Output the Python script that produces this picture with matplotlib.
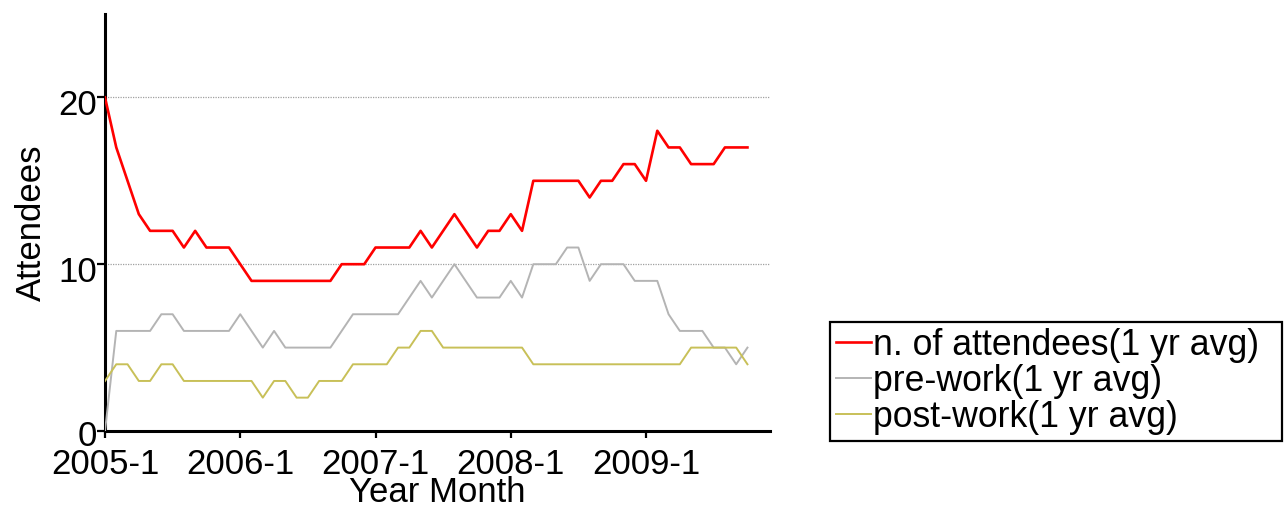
import numpy as np
import matplotlib
matplotlib.use('Agg')
import matplotlib.pyplot as plt
from matplotlib.transforms import ScaledTranslation

# monthly values, 2005-1 .. 2009-10
attendees = [20, 17, 15, 13, 12, 12, 12, 11, 12, 11, 11, 11,
             10, 9, 9, 9, 9, 9, 9, 9, 9, 10, 10, 10,
             11, 11, 11, 11, 12, 11, 12, 13, 12, 11, 12, 12,
             13, 12, 15, 15, 15, 15, 15, 14, 15, 15, 16, 16,
             15, 18, 17, 17, 16, 16, 16, 17, 17, 17]
pre_work = [0, 6, 6, 6, 6, 7, 7, 6, 6, 6, 6, 6,
            7, 6, 5, 6, 5, 5, 5, 5, 5, 6, 7, 7,
            7, 7, 7, 8, 9, 8, 9, 10, 9, 8, 8, 8,
            9, 8, 10, 10, 10, 11, 11, 9, 10, 10, 10, 9,
            9, 9, 7, 6, 6, 6, 5, 5, 4, 5]
post_work = [3, 4, 4, 3, 3, 4, 4, 3, 3, 3, 3, 3,
             3, 3, 2, 3, 3, 2, 2, 3, 3, 3, 4, 4,
             4, 4, 5, 5, 6, 6, 5, 5, 5, 5, 5, 5,
             5, 5, 4, 4, 4, 4, 4, 4, 4, 4, 4, 4,
             4, 4, 4, 4, 5, 5, 5, 5, 5, 4]
tick_labels = ['2005-1', '2006-1', '2007-1', '2008-1', '2009-1']
months = np.arange(len(attendees))

plt.rcParams['font.family'] = ['Liberation Sans', 'DejaVu Sans']
fs = 25

fig = plt.figure(figsize=(12.87, 5.13), dpi=100)
ax = fig.add_axes([105/1287, 1-431/513, 665/1287, 417/513])

ax.plot(months, attendees, color='#ff0000', lw=1.9, label='n. of attendees(1 yr avg)', zorder=3)
ax.plot(months, pre_work, color='#b4b4b4', lw=1.4, label='pre-work(1 yr avg)', zorder=3)
ax.plot(months, post_work, color='#c8c058', lw=1.4, label='post-work(1 yr avg)', zorder=3)

for yv in [10, 20]:
    ax.axhline(yv, color='#a0a0a0', lw=0.9, ls=(0, (1, 1)), zorder=1)

ax.set_xlim(0, 59)
ax.set_ylim(0, 25)
ax.set_xticks([0, 12, 24, 36, 48])
ax.set_xticklabels(tick_labels)
ax.set_yticks([0, 10, 20])
ax.tick_params(axis='x', direction='out', length=5, width=1.6, pad=7, labelsize=fs)
ax.tick_params(axis='y', direction='out', length=6, width=1.6, pad=0, labelsize=fs)
# y tick labels sit a little below their ticks in the original
for lab, dy in zip(ax.get_yticklabels(), [-2, -5, -5]):
    lab.set_transform(lab.get_transform() + ScaledTranslation(0, dy/100, fig.dpi_scale_trans))
for s in ['top', 'right']:
    ax.spines[s].set_visible(False)
for s in ['left', 'bottom']:
    ax.spines[s].set_linewidth(2.2)

ax.set_xlabel('Year Month', fontsize=fs, labelpad=-3)
ax.set_ylabel('Attendees', fontsize=fs, labelpad=7)

leg = fig.legend(loc='upper left', bbox_to_anchor=(830/1287, 1-322/513, 452/1287, 0),
                 mode='expand', fontsize=25.7, frameon=True, fancybox=False, framealpha=1,
                 edgecolor='black', borderpad=0.16, labelspacing=0.03,
                 handlelength=1.0, handletextpad=0.05, borderaxespad=0)
leg.get_frame().set_linewidth(1.6)

fig.savefig('out.png', dpi=100)
